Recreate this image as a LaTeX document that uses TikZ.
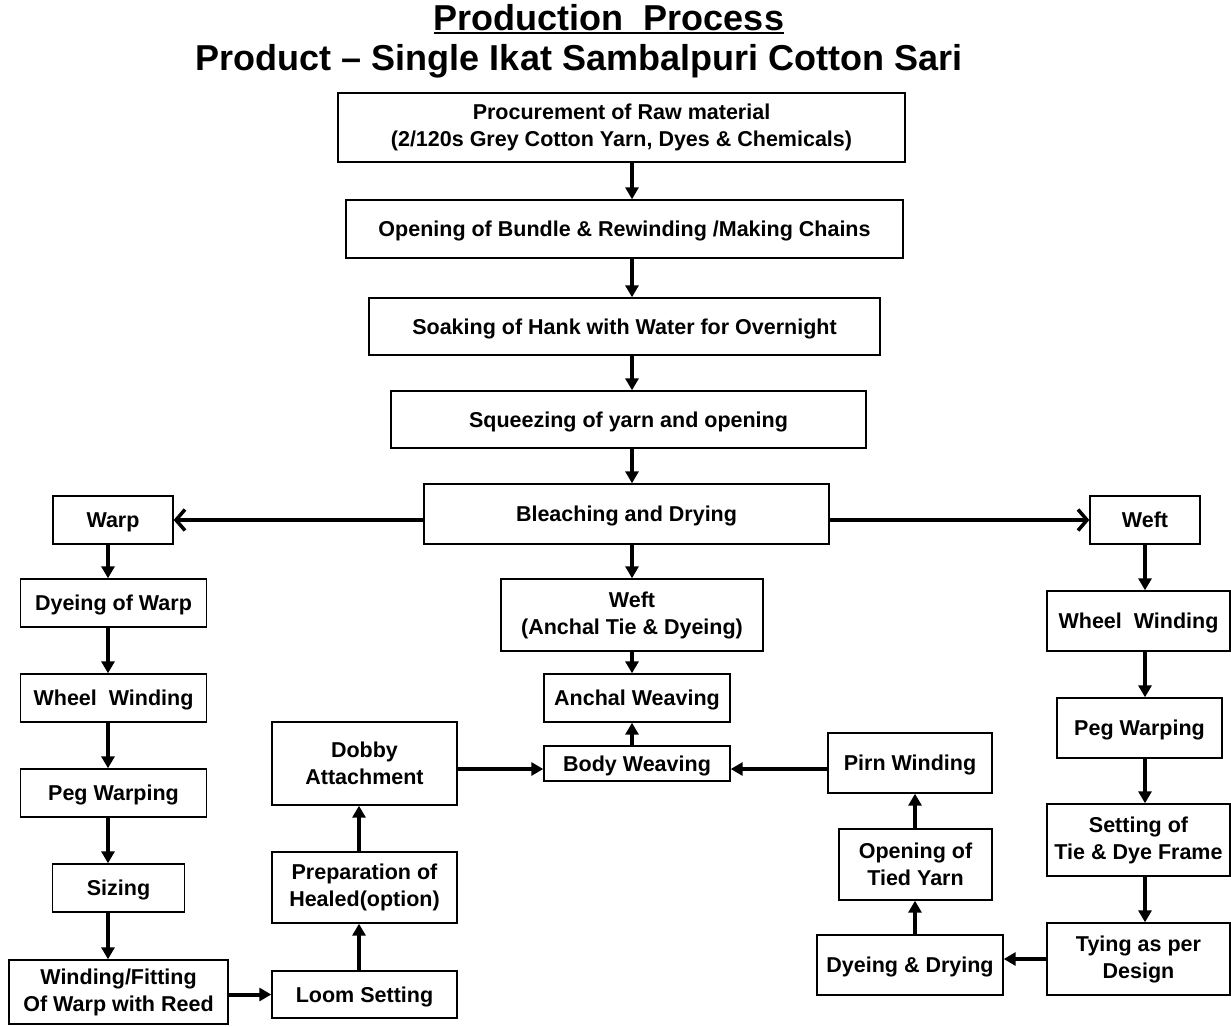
\documentclass[tikz,border=0pt]{standalone}
\usepackage{fontspec}
\setmainfont{Liberation Sans}
\usepackage{tikz}
\usetikzlibrary{
  arrows.meta,%
  calc,%
  positioning
}
\tikzset{font=\fontsize{21.5}{27}\selectfont\bfseries}
\tikzset{procbox/.style={draw, line width=1.4pt, align=center, inner sep=0pt},
  oneline/.style={text height=15.4pt, text depth=0pt},
  flow/.style={-{Triangle[length=12pt, width=13pt]}, line width=4pt},
  branch/.style={-{Straight Barb[length=9pt, width=21pt, line width=3.5pt]}, line width=4pt}}
\newcommand{\boxat}[6][oneline]{\node[procbox, #1, minimum width=#4, minimum height=#5] (#2) at (#3) {#6};}

\begin{document}
\begin{tikzpicture}[x=1pt, y=-1pt]
      \useasboundingbox[fill=white] (0, 0) rectangle (1231, 1026); %
      % title
      \node[inner sep=0pt, anchor=base, font=\fontsize{36}{40}\selectfont\bfseries] (title) at (609, 30) {Production\ \ Process}; %
      \draw[line width=2.2pt] ([yshift=-3pt]title.base west) -- ([yshift=-3pt]title.base east); %
      \node[inner sep=0pt, anchor=base, font=\fontsize{36}{40}\selectfont\bfseries] (product) at (579, 70) {Product -- Single Ikat Sambalpuri Cotton Sari}; %
      % arrow columns
      \coordinate (lx) at (108, 0); \coordinate (cx) at (632, 0); %
      \coordinate (rx) at (1145, 0); \coordinate (tx) at (915, 0); %
      \coordinate (mx) at (359, 0); %
      % main column
      \boxat[]{proc}{621.5, 127.5}{567pt}{69pt}{Procurement of Raw material\\(2/120s Grey Cotton Yarn, Dyes \& Chemicals)}
      \boxat{bundle}{624.5, 229}{557pt}{58pt}{Opening of Bundle \& Rewinding /Making Chains}
      \boxat{soak}{624.5, 326.5}{511pt}{57pt}{Soaking of Hank with Water for Overnight}
      \boxat{squeeze}{628.5, 419.5}{475pt}{57pt}{Squeezing of yarn and opening}
      \boxat{bleach}{626.5, 514}{405pt}{60pt}{Bleaching and Drying}
      \boxat[]{weftA}{632, 615}{262pt}{72pt}{Weft\\(Anchal Tie \& Dyeing)}
      \boxat{anchal}{637, 698}{186pt}{48pt}{Anchal Weaving}
      \boxat{body}{637, 763.5}{186pt}{35pt}{Body Weaving}
      % warp side
      \boxat{warp}{113, 520}{120pt}{48pt}{Warp}
      \boxat{dyeWarp}{113.5, 603}{186pt}{48pt}{Dyeing of Warp}
      \boxat{wheelL}{113.5, 698}{186pt}{48pt}{Wheel\ \ Winding}
      \boxat{pegL}{113.5, 793}{186pt}{48pt}{Peg Warping}
      \boxat{sizing}{118.5, 888}{132pt}{48pt}{Sizing}
      \boxat[]{fitting}{118.5, 992}{219pt}{64pt}{Winding/Fitting\\Of Warp with Reed}
      \boxat{loom}{364.5, 994.5}{185pt}{47pt}{Loom Setting}
      \boxat[]{heald}{364.5, 887.5}{185pt}{71pt}{Preparation of\\Healed(option)}
      \boxat[]{dobby}{364.5, 763.5}{185pt}{83pt}{Dobby\\Attachment}
      % weft side
      \boxat{weftR}{1145, 520}{110pt}{48pt}{Weft}
      \boxat{wheelR}{1138.5, 621}{183pt}{60pt}{Wheel\ \ Winding}
      \boxat{pegR}{1139.5, 728}{165pt}{60pt}{Peg Warping}
      \boxat[]{frame}{1138.5, 840}{183pt}{72pt}{Setting of\\Tie \& Dye Frame}
      \boxat[]{tying}{1138.5, 959}{183pt}{72pt}{Tying as per\\Design}
      \boxat{dyeDry}{910, 965}{186pt}{60pt}{Dyeing \& Drying}
      \boxat[]{tied}{915.5, 864.5}{153pt}{71pt}{Opening of\\Tied Yarn}
      \boxat{pirn}{910, 763}{164pt}{60pt}{Pirn Winding}
      % connectors
      \foreach \a/\b in {proc/bundle, bundle/soak, soak/squeeze, squeeze/bleach, bleach/weftA, weftA/anchal}
        \draw[flow] (\a.south -| cx) -- (\b.north -| cx); %
      \draw[flow] (body.north -| cx) -- (anchal.south -| cx); %
      \draw[branch] (bleach.west |- warp) -- (warp.east); %
      \draw[branch] (bleach.east |- weftR) -- (weftR.west); %
      \foreach \a/\b in {warp/dyeWarp, dyeWarp/wheelL, wheelL/pegL, pegL/sizing, sizing/fitting}
        \draw[flow] (\a.south -| lx) -- (\b.north -| lx); %
      \draw[flow] (fitting.east |- loom) -- (loom.west); %
      \draw[flow] (loom.north -| mx) -- (heald.south -| mx); %
      \draw[flow] (heald.north -| mx) -- (dobby.south -| mx); %
      \draw[flow] ([yshift=-5.5pt]dobby.east) -- ([yshift=-5.5pt]dobby.east -| body.west); %
      \foreach \a/\b in {weftR/wheelR, wheelR/pegR, pegR/frame, frame/tying}
        \draw[flow] (\a.south -| rx) -- (\b.north -| rx); %
      \draw[flow] (tying.west) -- (tying.west -| dyeDry.east); %
      \draw[flow] (dyeDry.north -| tx) -- (tied.south -| tx); %
      \draw[flow] (tied.north -| tx) -- (pirn.south -| tx); %
      \draw[flow] ([yshift=-6pt]pirn.west) -- ([yshift=-6pt]pirn.west -| body.east); %
    \end{tikzpicture}
\end{document}
